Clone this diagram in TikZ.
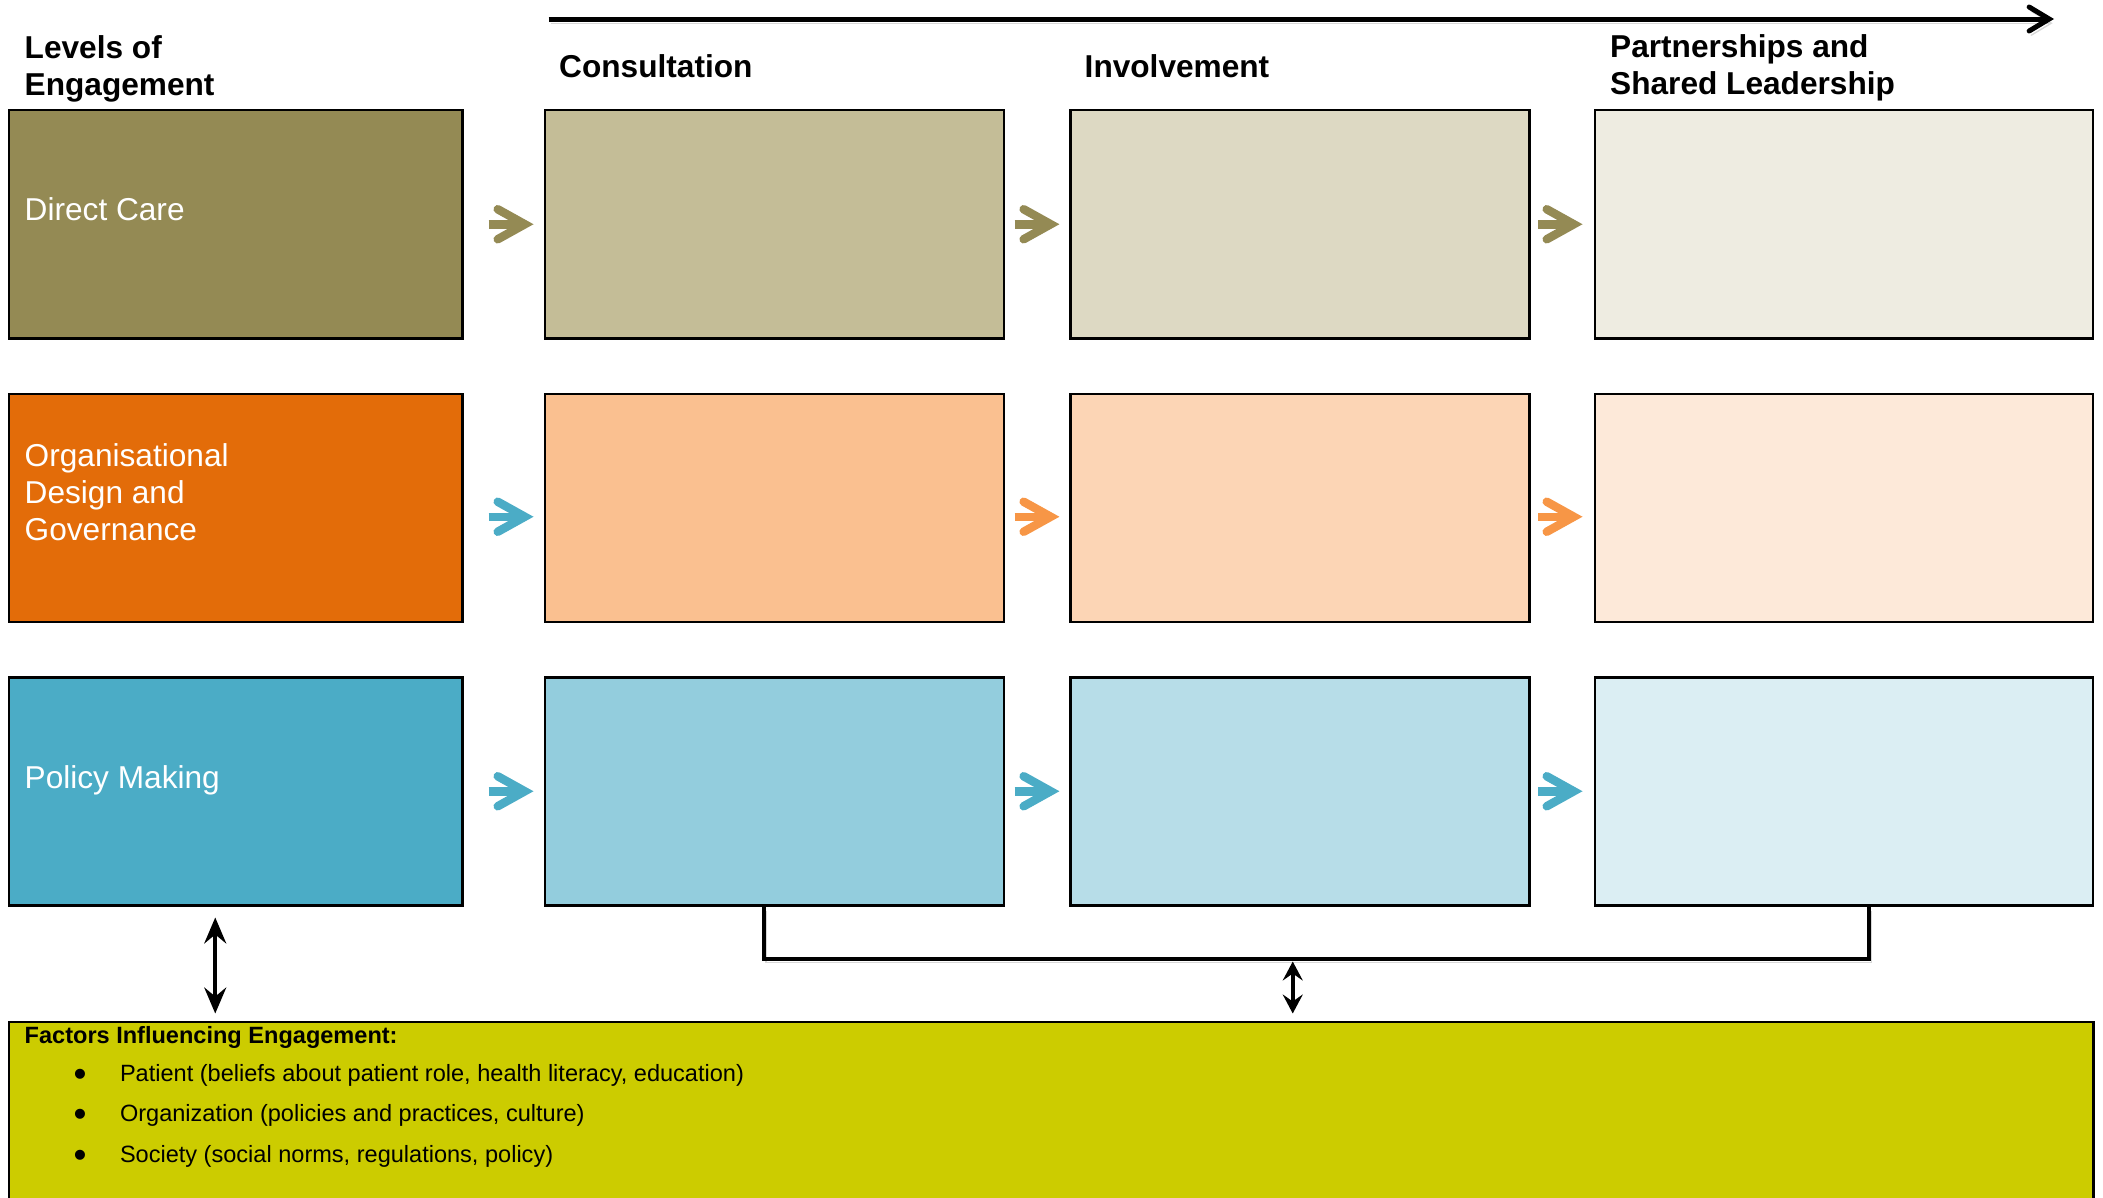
\documentclass[tikz,border=0pt]{standalone}
\usepackage{fontspec}
\setmainfont{Liberation Sans}
\usetikzlibrary{positioning, arrows.meta, calc}
\definecolor{olive1}{HTML}{948A54}
\definecolor{olive2}{HTML}{C4BD97}
\definecolor{olive3}{HTML}{DDD9C3}
\definecolor{olive4}{HTML}{EEECE1}
\definecolor{orange1}{HTML}{E36C09}
\definecolor{orange2}{HTML}{FAC090}
\definecolor{orange3}{HTML}{FCD5B5}
\definecolor{orange4}{HTML}{FDE9D9}
\definecolor{aqua1}{HTML}{4BACC6}
\definecolor{aqua2}{HTML}{93CDDD}
\definecolor{aqua3}{HTML}{B7DDE8}
\definecolor{aqua4}{HTML}{DBEEF3}
\definecolor{orangearr}{HTML}{F79646}
\definecolor{factorfill}{HTML}{CCCC00}
\newcommand{\fbul}[1]{\hspace*{0.49cm}\makebox[0.463cm][l]{\raisebox{-0.05cm}{\fontsize{10.5}{10}\selectfont\textbullet}}#1}
\tikzset{
	level/.style={draw, rectangle, line width=0.025cm, inner sep=0pt, minimum width=4.53cm, minimum height=2.28cm},
	stage/.style={draw, rectangle, line width=0.025cm, inner sep=0pt, minimum width=4.59cm, minimum height=2.28cm},
	widestage/.style={stage, minimum width=4.98cm},
	% texts
	lvltext/.style={anchor=west, text=white, align=left, inner sep=0pt, font=\fontsize{9}{10.5}\selectfont},
	head/.style={anchor=base west, align=left, inner sep=0pt, font=\bfseries\fontsize{9}{10.5}\selectfont},
	factorbox/.style={draw, rectangle, line width=0.025cm, inner sep=0pt, fill=factorfill, minimum width=20.84cm, minimum height=1.8cm},
	factortext/.style={anchor=base west, align=left, inner sep=0pt, font=\fontsize{6.7}{11.55}\selectfont},
	% connectors
	shade/.style={preaction={draw=black!35, opacity=0.45, transform canvas={xshift=0.6pt, yshift=-1.2pt}}},
	chev/.style={shade, line width=0.085cm, -{Straight Barb[length=0.27cm, width=0.3cm, line cap=round, line join=miter]}},
	timeline/.style={shade, line width=0.05cm, -{Straight Barb[length=0.2cm, width=0.24cm, line cap=round, line join=miter]}},
	link/.style={shade, line width=0.04cm},
	twoway/.style={line width=0.038cm, {Stealth[length=0.26cm, width=0.22cm, inset=0.09cm]}-{Stealth[length=0.26cm, width=0.22cm, inset=0.09cm]}},
	shorttwoway/.style={line width=0.038cm, {Stealth[length=0.19cm, width=0.2cm, inset=0.07cm]}-{Stealth[length=0.19cm, width=0.2cm, inset=0.07cm]}},
}
\begin{document}
\begin{tikzpicture}
	\useasboundingbox (0,0) rectangle (21.03,-11.98);
	\clip (0,0) rectangle (21.03,-11.98);
	
	\node (dc) [level, fill=olive1, anchor=north west] at (0.08,-1.09) {};
	\node (org) [level, fill=orange1, below=0.53cm of dc] {};
	\node (pol) [level, fill=aqua1, below=0.53cm of org] {};
	
	\node (cons1) [stage, fill=olive2, right=0.8cm of dc] {};
	\node (inv1) [stage, fill=olive3, right=0.64cm of cons1] {};
	\node (part1) [widestage, fill=olive4, right=0.63cm of inv1] {};
	\node (cons2) [stage, fill=orange2, right=0.8cm of org] {};
	\node (inv2) [stage, fill=orange3, right=0.64cm of cons2] {};
	\node (part2) [widestage, fill=orange4, right=0.63cm of inv2] {};
	\node (cons3) [stage, fill=aqua2, right=0.8cm of pol] {};
	\node (inv3) [stage, fill=aqua3, right=0.64cm of cons3] {};
	\node (part3) [widestage, fill=aqua4, right=0.63cm of inv3] {};
	
	\node (factors) [factorbox, below right=1.14cm and 0cm of pol.south west] {};
	
	\node (hlev) [head] at ([xshift=0.16cm, yshift=0.133cm]dc.north west) {Levels of\\Engagement};
	\node (hcons) [head] at ([xshift=0.15cm, yshift=0.313cm]cons1.north west) {Consultation};
	\node (hinv) [head] at ([xshift=0.15cm, yshift=0.313cm]inv1.north west) {Involvement};
	\node (hpart) [head] at ([xshift=0.16cm, yshift=0.145cm]part1.north west) {Partnerships and\\Shared Leadership};
	
	\node (tdc) [lvltext] at ([xshift=0.16cm, yshift=0.155cm]dc.west) {Direct Care};
	\node (torg) [lvltext] at ([xshift=0.16cm, yshift=0.155cm]org.west) {Organisational\\Design and\\Governance};
	\node (tpol) [lvltext] at ([xshift=0.16cm, yshift=0.105cm]pol.west) {Policy Making};
	
	\node (ftext) [factortext] at ([xshift=0.16cm, yshift=-1.42cm]factors.north west) {\textbf{Factors Influencing Engagement:}\\[-0.85pt]
		\fbul{Patient (beliefs about patient role, health literacy, education)}\\
		\fbul{Organization (policies and practices, culture)}\\
		\fbul{Society (social norms, regulations, policy)}};
	
	\draw[timeline] ([xshift=0.05cm, yshift=0.9cm]cons1.north west) -- ([xshift=-0.4cm, yshift=0.9cm]part1.north east);
	
	\begin{scope}[chev]
		\draw[draw=olive1, shorten <=0.25cm, shorten >=0.1cm] (dc) -- (cons1);
		\draw[draw=olive1, shorten <=0.096cm, shorten >=0.096cm] (cons1) -- (inv1);
		\draw[draw=olive1, shorten <=0.078cm, shorten >=0.11cm] (inv1) -- (part1);
		\draw[draw=aqua1, shorten <=0.25cm, shorten >=0.1cm] ([yshift=-0.09cm]org.east) -- ([yshift=-0.09cm]cons2.west);
		\draw[draw=orangearr, shorten <=0.096cm, shorten >=0.096cm] ([yshift=-0.09cm]cons2.east) -- ([yshift=-0.09cm]inv2.west);
		\draw[draw=orangearr, shorten <=0.078cm, shorten >=0.11cm] ([yshift=-0.09cm]inv2.east) -- ([yshift=-0.09cm]part2.west);
		\draw[draw=aqua1, shorten <=0.25cm, shorten >=0.1cm] (pol) -- (cons3);
		\draw[draw=aqua1, shorten <=0.096cm, shorten >=0.096cm] (cons3) -- (inv3);
		\draw[draw=aqua1, shorten <=0.078cm, shorten >=0.11cm] (inv3) -- (part3);
	\end{scope}
	
	\draw[link] ([xshift=-0.105cm]cons3.south) -- ++(0,-0.52) -| ([xshift=0.255cm]part3.south);
	\coordinate (brk) at ($(cons3.south)+(5.185,-0.52)$);
	\draw[shorttwoway, shorten <=0.03cm, shorten >=0.07cm] (brk) -- (brk |- factors.north);
	\draw[twoway, shorten <=0.11cm, shorten >=0.07cm] ([xshift=-0.205cm]pol.south) -- ([xshift=-0.205cm]pol.south |- factors.north);
\end{tikzpicture}
\end{document}
